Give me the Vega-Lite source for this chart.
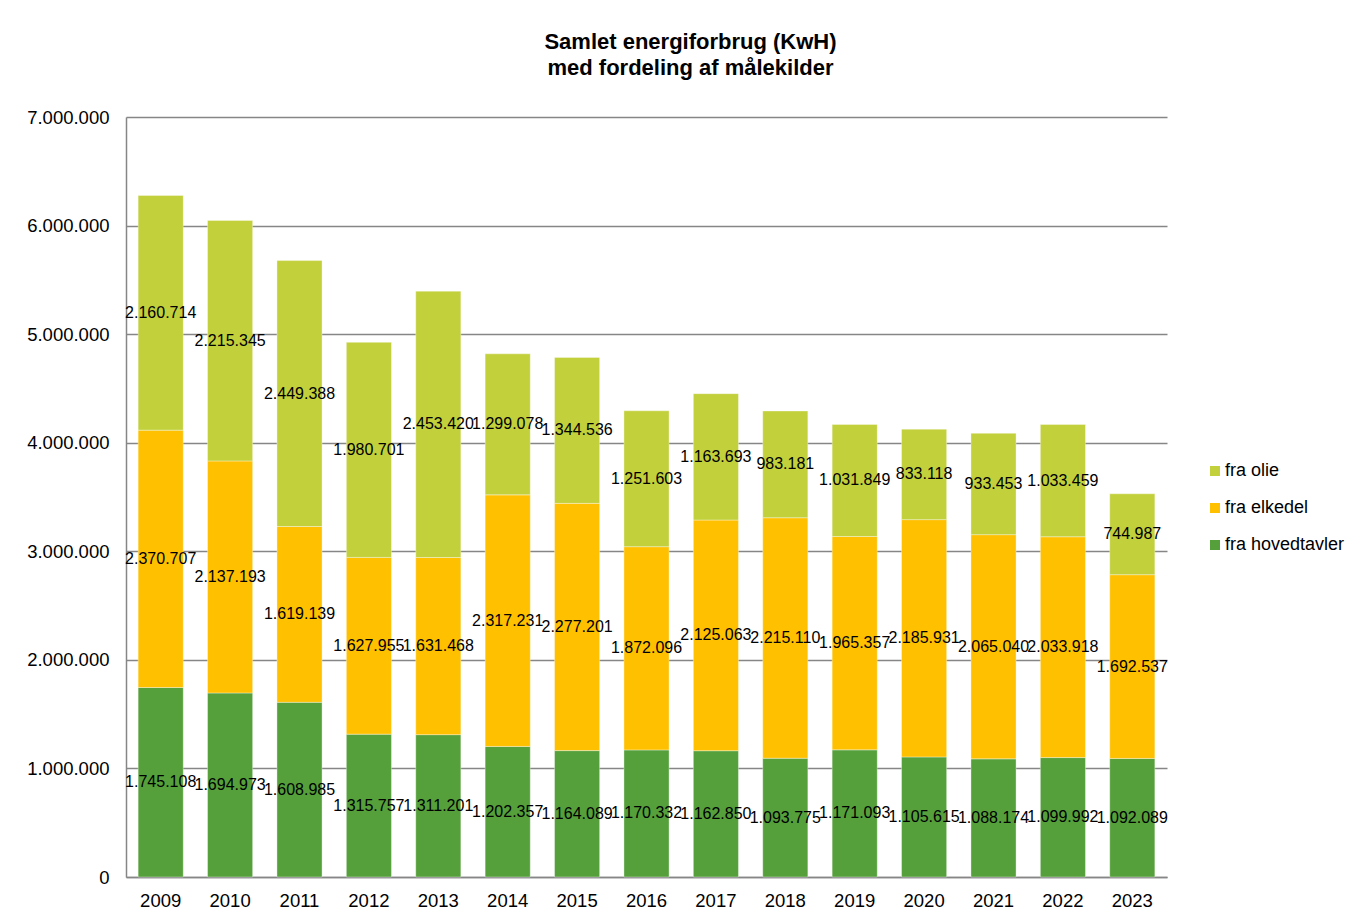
{
  "$schema": "https://vega.github.io/schema/vega-lite/v6.json",
  "autosize": "none",
  "width": 1041,
  "height": 760,
  "padding": {"left": 126, "top": 117, "right": 193, "bottom": 43},
  "background": "#ffffff",
  "title": {
    "text": ["Samlet energiforbrug (KwH)", " med fordeling af målekilder"],
    "font": "Liberation Sans",
    "fontSize": 22,
    "fontWeight": "bold",
    "color": "#000000",
    "anchor": "middle",
    "frame": "group",
    "dx": 44,
    "offset": 28,
    "lineHeight": 26
  },
  "config": {
    "locale": {
      "number": {"decimal": ",", "thousands": ".", "grouping": [3], "currency": ["", " kr."]}
    },
    "view": {"stroke": null},
    "font": "Liberation Sans"
  },
  "data": {
    "values": [
      {"aar": "2009", "kilde": "fra hovedtavler", "niveau": 1, "kwh": 1745108},
      {"aar": "2009", "kilde": "fra elkedel", "niveau": 2, "kwh": 2370707},
      {"aar": "2009", "kilde": "fra olie", "niveau": 3, "kwh": 2160714},
      {"aar": "2010", "kilde": "fra hovedtavler", "niveau": 1, "kwh": 1694973},
      {"aar": "2010", "kilde": "fra elkedel", "niveau": 2, "kwh": 2137193},
      {"aar": "2010", "kilde": "fra olie", "niveau": 3, "kwh": 2215345},
      {"aar": "2011", "kilde": "fra hovedtavler", "niveau": 1, "kwh": 1608985},
      {"aar": "2011", "kilde": "fra elkedel", "niveau": 2, "kwh": 1619139},
      {"aar": "2011", "kilde": "fra olie", "niveau": 3, "kwh": 2449388},
      {"aar": "2012", "kilde": "fra hovedtavler", "niveau": 1, "kwh": 1315757},
      {"aar": "2012", "kilde": "fra elkedel", "niveau": 2, "kwh": 1627955},
      {"aar": "2012", "kilde": "fra olie", "niveau": 3, "kwh": 1980701},
      {"aar": "2013", "kilde": "fra hovedtavler", "niveau": 1, "kwh": 1311201},
      {"aar": "2013", "kilde": "fra elkedel", "niveau": 2, "kwh": 1631468},
      {"aar": "2013", "kilde": "fra olie", "niveau": 3, "kwh": 2453420},
      {"aar": "2014", "kilde": "fra hovedtavler", "niveau": 1, "kwh": 1202357},
      {"aar": "2014", "kilde": "fra elkedel", "niveau": 2, "kwh": 2317231},
      {"aar": "2014", "kilde": "fra olie", "niveau": 3, "kwh": 1299078},
      {"aar": "2015", "kilde": "fra hovedtavler", "niveau": 1, "kwh": 1164089},
      {"aar": "2015", "kilde": "fra elkedel", "niveau": 2, "kwh": 2277201},
      {"aar": "2015", "kilde": "fra olie", "niveau": 3, "kwh": 1344536},
      {"aar": "2016", "kilde": "fra hovedtavler", "niveau": 1, "kwh": 1170332},
      {"aar": "2016", "kilde": "fra elkedel", "niveau": 2, "kwh": 1872096},
      {"aar": "2016", "kilde": "fra olie", "niveau": 3, "kwh": 1251603},
      {"aar": "2017", "kilde": "fra hovedtavler", "niveau": 1, "kwh": 1162850},
      {"aar": "2017", "kilde": "fra elkedel", "niveau": 2, "kwh": 2125063},
      {"aar": "2017", "kilde": "fra olie", "niveau": 3, "kwh": 1163693},
      {"aar": "2018", "kilde": "fra hovedtavler", "niveau": 1, "kwh": 1093775},
      {"aar": "2018", "kilde": "fra elkedel", "niveau": 2, "kwh": 2215110},
      {"aar": "2018", "kilde": "fra olie", "niveau": 3, "kwh": 983181},
      {"aar": "2019", "kilde": "fra hovedtavler", "niveau": 1, "kwh": 1171093},
      {"aar": "2019", "kilde": "fra elkedel", "niveau": 2, "kwh": 1965357},
      {"aar": "2019", "kilde": "fra olie", "niveau": 3, "kwh": 1031849},
      {"aar": "2020", "kilde": "fra hovedtavler", "niveau": 1, "kwh": 1105615},
      {"aar": "2020", "kilde": "fra elkedel", "niveau": 2, "kwh": 2185931},
      {"aar": "2020", "kilde": "fra olie", "niveau": 3, "kwh": 833118},
      {"aar": "2021", "kilde": "fra hovedtavler", "niveau": 1, "kwh": 1088174},
      {"aar": "2021", "kilde": "fra elkedel", "niveau": 2, "kwh": 2065040},
      {"aar": "2021", "kilde": "fra olie", "niveau": 3, "kwh": 933453},
      {"aar": "2022", "kilde": "fra hovedtavler", "niveau": 1, "kwh": 1099992},
      {"aar": "2022", "kilde": "fra elkedel", "niveau": 2, "kwh": 2033918},
      {"aar": "2022", "kilde": "fra olie", "niveau": 3, "kwh": 1033459},
      {"aar": "2023", "kilde": "fra hovedtavler", "niveau": 1, "kwh": 1092089},
      {"aar": "2023", "kilde": "fra elkedel", "niveau": 2, "kwh": 1692537},
      {"aar": "2023", "kilde": "fra olie", "niveau": 3, "kwh": 744987}
    ]
  },
  "transform": [
    {"stack": "kwh", "groupby": ["aar"], "sort": [{"field": "niveau", "order": "ascending"}], "as": ["y0", "y1"]},
    {"calculate": "(datum.y0 + datum.y1) / 2", "as": "midt"}
  ],
  "encoding": {
    "x": {
      "field": "aar",
      "type": "ordinal",
      "title": null,
      "scale": {"paddingInner": 0.35, "paddingOuter": 0.175},
      "axis": {
        "labelAngle": 0,
        "labelFontSize": 18.5,
        "labelColor": "#000000",
        "labelPadding": 14,
        "ticks": false,
        "domainColor": "#868686",
        "domainWidth": 1.5,
        "grid": false
      }
    }
  },
  "layer": [
    {
      "mark": {"type": "bar", "stroke": "#ffffff", "strokeWidth": 0.6, "strokeOpacity": 0.6},
      "encoding": {
        "y": {
          "field": "y0",
          "type": "quantitative",
          "title": null,
          "scale": {"domain": [0, 7000000], "nice": false},
          "axis": {
            "values": [0, 1000000, 2000000, 3000000, 4000000, 5000000, 6000000, 7000000],
            "format": ",d",
            "labelFontSize": 18.5,
            "labelColor": "#000000",
            "labelPadding": 17,
            "ticks": false,
            "domainColor": "#868686",
            "domainWidth": 1.5,
            "gridColor": "#868686",
            "gridWidth": 1.5
          }
        },
        "y2": {"field": "y1"},
        "color": {
          "field": "kilde",
          "type": "nominal",
          "scale": {
            "domain": ["fra olie", "fra elkedel", "fra hovedtavler"],
            "range": ["#C2D03B", "#FFC000", "#55A03B"]
          },
          "legend": {
            "title": null,
            "orient": "none",
            "legendX": 1080,
            "legendY": 345,
            "symbolType": "square",
            "symbolSize": 100,
            "symbolStrokeWidth": 0,
            "labelFontSize": 18,
            "labelColor": "#000000",
            "labelOffset": 1,
            "rowPadding": 19
          }
        },
        "order": {"field": "niveau", "type": "quantitative"}
      }
    },
    {
      "mark": {"type": "text", "fontSize": 16, "color": "#000000", "baseline": "middle", "align": "center"},
      "encoding": {
        "y": {"field": "midt", "type": "quantitative"},
        "text": {"field": "kwh", "type": "quantitative", "format": ",d"}
      }
    }
  ]
}
